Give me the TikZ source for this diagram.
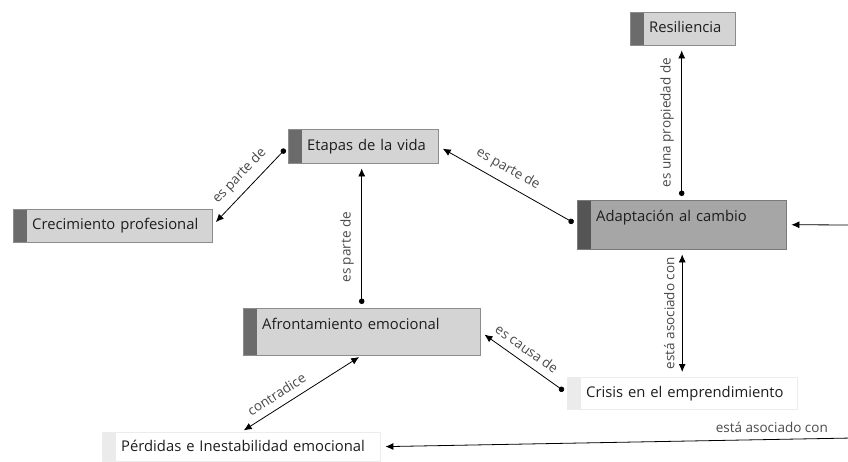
\documentclass[tikz,border=0pt]{standalone}
\usepackage{fontspec}
\setmainfont{Open Sans}
\usepackage{xcolor}
\usetikzlibrary{arrows.meta,calc,positioning}

\definecolor{boxfill}{HTML}{D4D4D4}
\definecolor{boxline}{HTML}{8C8C8C}
\definecolor{bardark}{HTML}{6B6B6B}
\definecolor{adaptfill}{HTML}{A6A6A6}
\definecolor{adaptline}{HTML}{7A7A7A}
\definecolor{adaptbar}{HTML}{555555}
\definecolor{paleline}{HTML}{ECECEC}
\definecolor{palebar}{HTML}{EBEBEB}
\definecolor{boxtext}{HTML}{1E1E1E}
\definecolor{labeltext}{HTML}{4A4A4A}

\tikzset{
  barcolor/.store in=\barcolor, barcolor=bardark,
  concept/.style={rectangle, draw=boxline, fill=boxfill, anchor=north west,
    inner sep=0pt, align=left, text=boxtext, font=\fontsize{14.8}{17}\selectfont,
    text height=11pt, text depth=3pt,
    path picture={\fill[\barcolor] (path picture bounding box.south west) rectangle ([xshift=14pt]path picture bounding box.north west);},
    execute at begin node={\hspace*{19pt}}},
  link/.style={line width=0.8pt, shorten >=5pt, shorten <=4pt},
  dotto/.style={{Circle[length=5.5pt]}-{Latex[length=8pt,width=7pt]}},
  twoway/.style={{Latex[length=8pt,width=7pt]}-{Latex[length=8pt,width=7pt]}},
  linklabel/.style={font=\fontsize{13.5}{15}\selectfont, text=labeltext, sloped, above=4pt}
}

\begin{document}
\begin{tikzpicture}[x=1pt, y=-1pt]
    \useasboundingbox (0,0) rectangle (848,461);

    % Concepts
    \node[concept, text width=105pt, minimum height=33pt, text depth=4pt] (resil) at (630,12) {Resiliencia};
    \node[concept, text width=150pt, minimum height=34pt] (etapas) at (288,129) {Etapas de la vida};
    \node[concept, text width=199pt, minimum height=33pt] (crecim) at (13,209) {Crecimiento profesional};
    \node[concept, fill=adaptfill, draw=adaptline, barcolor=adaptbar, text width=209pt, minimum height=49pt, text depth=18pt] (adapt) at (577,200) {Adaptación al cambio};
    \node[concept, text width=237pt, minimum height=47pt, text depth=16pt] (afront) at (243,308) {Afrontamiento emocional};
    \node[concept, fill=white, draw=paleline, barcolor=palebar, text width=230pt, minimum height=32pt] (crisis) at (567,377) {Crisis en el emprendimiento};
    \node[concept, fill=white, draw=paleline, barcolor=palebar, text width=278pt, minimum height=29pt, text depth=1pt] (perdidas) at (102,432) {Pérdidas e Inestabilidad emocional};

    % Free ends at the right border
    \coordinate (rightA) at (852,225);
    \coordinate (rightP) at (852,438);

    % Links
    \draw[link, dotto] (etapas.west) -- (crecim.east) node[linklabel, midway] {es parte de};
    \draw[link, dotto] (adapt.west) -- (etapas.east) node[linklabel, pos=0.55] {es parte de};
    \draw[link, dotto] (afront.north) -- (afront.north |- etapas.south) node[linklabel, pos=0.42] {es parte de};
    \draw[link, dotto] (adapt.north) -- (adapt.north |- resil.south) node[linklabel, midway] {es una propiedad de};
    \draw[link, twoway, shorten <=5pt] (crisis.north) -- (crisis.north |- adapt.south) node[linklabel, midway] {está asociado con};
    \draw[link, dotto] (crisis.west) -- (afront.east) node[linklabel, pos=0.55] {es causa de};
    \draw[link, twoway, shorten <=3pt, shorten >=3pt] (perdidas.north) -- (afront.south) node[linklabel, pos=0.35] {contradice};

    % Incoming from the right
    \draw[link, -{Latex[length=8pt,width=7pt]}, shorten <=0pt] (rightA) -- (adapt.east);
    \draw[link, -{Latex[length=8pt,width=7pt]}, shorten <=0pt] (rightP) -- (perdidas.east)
        node[pos=0.17, above=3pt, font=\fontsize{13.5}{15}\selectfont, text=labeltext] {está asociado con};

\end{tikzpicture}
\end{document}
